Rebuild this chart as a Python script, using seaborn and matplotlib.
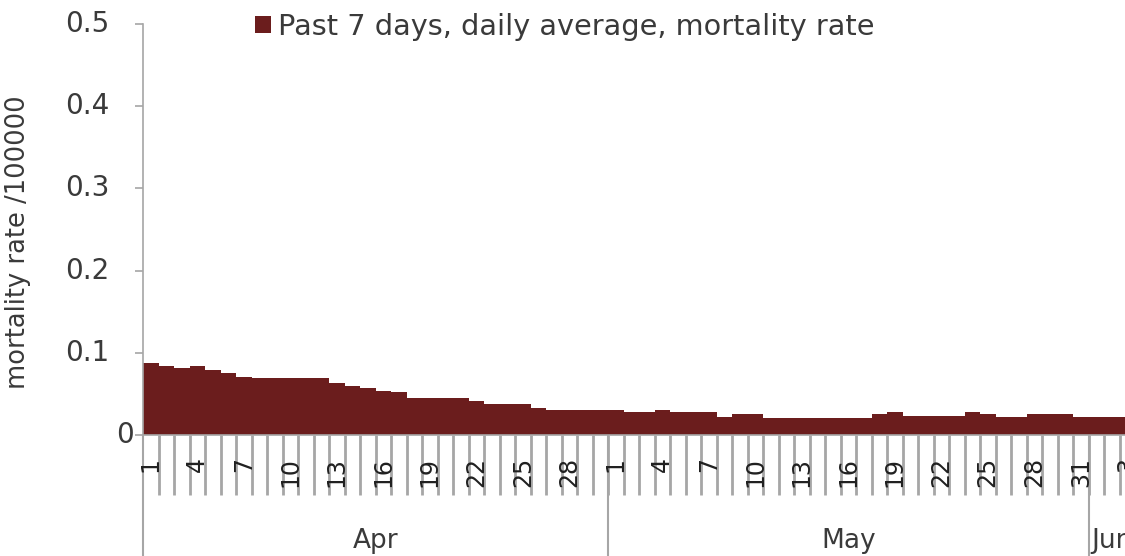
import numpy as np
import pandas as pd
import matplotlib
matplotlib.use("Agg")
import matplotlib.pyplot as plt
import seaborn as sns

# daily mortality rate per 100000, past 7 days average
months = ["Apr", "May", "Jun"]
apr_rate = [0.087, 0.084, 0.082, 0.084, 0.079, 0.075, 0.071, 0.069, 0.069, 0.069,
            0.069, 0.069, 0.063, 0.060, 0.057, 0.054, 0.052, 0.045, 0.045, 0.045,
            0.045, 0.041, 0.038, 0.038, 0.038, 0.033, 0.030, 0.030, 0.030, 0.030]
may_rate = [0.030, 0.028, 0.028, 0.031, 0.028, 0.028, 0.028, 0.022, 0.025, 0.025,
            0.021, 0.021, 0.021, 0.021, 0.021, 0.021, 0.021, 0.025, 0.028, 0.023,
            0.023, 0.023, 0.023, 0.028, 0.025, 0.022, 0.022, 0.025, 0.025, 0.025,
            0.022]
jun_rate = [0.022, 0.022, 0.022]
y_ticks = [0, 0.1, 0.2, 0.3, 0.4, 0.5]
legend_label = "Past 7 days, daily average, mortality rate"
y_label = "mortality rate /100000"

bar_color = "#6b1d1d"
line_gray = "#a6a6a6"
text_color = "#3a3a3a"

rows = []
for month, rates in zip(months, [apr_rate, may_rate, jun_rate]):
    for d, r in enumerate(rates, start=1):
        rows.append({"month": month, "day": d, "rate": r})
df = pd.DataFrame(rows)
df["pos"] = np.arange(len(df))

sns.set_style("white")
plt.rcParams["font.family"] = ["DejaVu Sans"]

fig = plt.figure(figsize=(11.25, 5.56), dpi=100)
ax = fig.add_axes([143 / 1125, 121 / 556, 982 / 1125, 411 / 556])

sns.barplot(data=df, x="pos", y="rate", color=bar_color, width=1.0,
            linewidth=0, saturation=1, label=legend_label, ax=ax)

ax.set_xlim(-0.5, -0.5 + 982 / 15.5)
ax.set_ylim(0, 0.5)
ax.set_yticks(y_ticks)
ax.set_yticklabels([])
ax.tick_params(axis="y", left=True, length=6, width=1.2, color=line_gray)
# value labels: the zero sits closer to the axis than the others
yt = ax.get_yaxis_transform()
for v in y_ticks:
    lab = "0" if v == 0 else f"{v:.1f}"
    xpos = -0.009 if v == 0 else -0.034
    ax.text(xpos, v, lab, transform=yt, ha="right", va="center",
            fontsize=20, color=text_color)
ax.set_xticks([])
ax.set_xlabel("")
ax.set_ylabel(y_label, fontsize=18.5, color=text_color)
ax.yaxis.set_label_coords(-0.114, 0.468)

for side in ["top", "right"]:
    ax.spines[side].set_visible(False)
for side in ["left", "bottom"]:
    ax.spines[side].set_color(line_gray)
    ax.spines[side].set_linewidth(1.2)

# category axis: a line between every day, longer ones between months
xt = ax.get_xaxis_transform()
ax.vlines(df["pos"].values[1:] - 0.5, -0.146, 0, transform=xt, colors=line_gray,
          linewidth=2, clip_on=False)
starts = df.index[df["day"] == 1].tolist()
ax.vlines(np.array(starts) - 0.5, -0.3, 0, transform=xt, colors=line_gray,
          linewidth=1.5, clip_on=False)
for _, r in df[df["pos"] % 3 == 0].iterrows():
    ax.text(r["pos"], -0.053, str(r["day"]), transform=xt, rotation=90,
            ha="center", va="top", fontsize=17, color="#202020", clip_on=False)
for month in months:
    sub = df[df["month"] == month]
    ax.text(sub["pos"].mean(), -0.258, month, transform=xt, ha="center",
            va="center", fontsize=19, color=text_color)

ax.legend(loc="upper left", bbox_to_anchor=(255 / 1125, 1 - 13 / 556),
          bbox_transform=fig.transFigure, frameon=False, fontsize=20.7,
          handlelength=0.55, handleheight=0.55, handletextpad=0.25,
          borderpad=0, borderaxespad=0, labelcolor=text_color)

fig.savefig("out.png", dpi=100, facecolor="white")
